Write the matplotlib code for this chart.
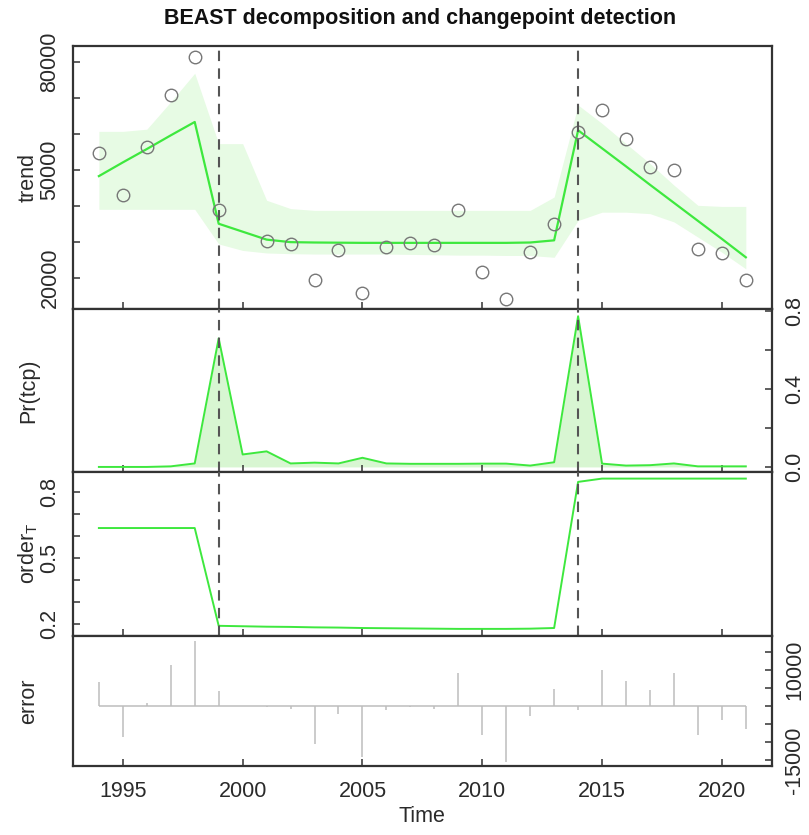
import numpy as np
import matplotlib
matplotlib.use("Agg")
import matplotlib.pyplot as plt
from matplotlib.ticker import FixedLocator, FixedFormatter

plt.rcParams['font.family'] = ['Liberation Sans', 'DejaVu Sans']
plt.rcParams['font.size'] = 15.5

years = list(range(1994, 2022))

# observed values (2000 is missing)
observed = [54800, 43200, 56400, 70700, 81400, 39000, np.nan, 30300, 29500, 19500,
            27700, 15800, 28600, 29800, 29100, 38800, 21700, 14200, 27200, 34900,
            60600, 66600, 58500, 50800, 49900, 28000, 27100, 19400]
trend = [48300, 52100, 55800, 59600, 63300, 35100, 32900, 30700, 30000, 29900,
         29850, 29800, 29800, 29800, 29800, 29800, 29800, 29800, 29900, 30500,
         61000, 56000, 51000, 45900, 40900, 35900, 30900, 25800]
trend_upper = [60700, 60700, 61300, 68900, 76800, 57300, 57300, 41600, 39300, 38800,
               38800, 38800, 38800, 38800, 38800, 38800, 38800, 38800, 38800, 42500,
               68000, 62900, 57300, 51800, 45800, 40200, 39900, 39900]
trend_lower = [39100, 39100, 39100, 39100, 39100, 29500, 27700, 27000, 26800, 26700,
               26700, 26700, 26700, 26600, 26500, 26400, 26400, 26300, 26300, 25800,
               36000, 38300, 38300, 37900, 35600, 31400, 27200, 22600]

prob_tcp = [0.0, 0.0, 0.0, 0.003, 0.018, 0.66, 0.064, 0.08, 0.018, 0.022,
            0.018, 0.047, 0.018, 0.016, 0.016, 0.016, 0.017, 0.017, 0.007, 0.024,
            0.774, 0.017, 0.007, 0.009, 0.018, 0.003, 0.003, 0.003]

order_t = [0.635, 0.635, 0.635, 0.635, 0.635, 0.19, 0.188, 0.186, 0.185, 0.183,
           0.182, 0.18, 0.179, 0.178, 0.177, 0.176, 0.176, 0.176, 0.177, 0.18,
           0.845, 0.86, 0.86, 0.86, 0.86, 0.86, 0.86, 0.86]

error = [6500, -8700, 900, 11400, 18100, 4200, np.nan, -400, -800, -10600,
         -2300, -14100, -1100, -400, -800, 9200, -8100, -15500, -2800, 4600,
         -1100, 10000, 7000, 4400, 9100, -8100, -3900, -6400]

changepoints = [1999, 2014]

green = '#3ee83e'
band = '#e7fbe4'
frame = '#333333'
text_col = '#2a2a2a'

fig = plt.figure(figsize=(8.09, 8.35), dpi=100)

left = 73 / 809
width = 698.7 / 809
# panel edges in pixels from top
edges = [(46, 309), (309, 472), (472, 635.7), (635.7, 766)]
axes = []
for top, bot in edges:
    ax = fig.add_axes([left, (835 - bot) / 835, width, (bot - top) / 835])
    axes.append(ax)

ax1, ax2, ax3, ax4 = axes

for ax in axes:
    ax.set_xlim(1992.92, 2022.08)
    for s in ax.spines.values():
        s.set_color(frame)
        s.set_linewidth(1.6)
    ax.xaxis.set_major_locator(FixedLocator([1995, 2000, 2005, 2010, 2015, 2020]))
    ax.tick_params(axis='both', direction='in', length=5, width=1.1, color=frame,
                   labelcolor=text_col)
    ax.tick_params(axis='x', labelbottom=False, pad=11)

# trend panel
ax1.fill_between(years, trend_lower, trend_upper, color=band, lw=0)
ax1.plot(years, trend, color=green, lw=1.6)
ax1.plot(years, observed, 'o', mfc='none', mec='#777777', ms=9, mew=1.0)
ax1.set_ylim(11470, 84360)
ax1.yaxis.set_major_locator(FixedLocator(range(20000, 90000, 10000)))
ax1.yaxis.set_major_formatter(FixedFormatter(['20000', '', '', '50000', '', '', '80000']))
ax1.set_ylabel('trend')

# probability of changepoint
ax2.fill_between(years, 0, prob_tcp, color='#d8f6d2', lw=0)
ax2.plot(years, prob_tcp, color=green, lw=1.4)
ax2.set_ylim(-0.026, 0.811)
ax2.yaxis.tick_right()
ax2.yaxis.set_major_locator(FixedLocator([0, 0.2, 0.4, 0.6, 0.8]))
ax2.yaxis.set_major_formatter(FixedFormatter(['0.0', '', '0.4', '', '0.8']))
ax2.yaxis.set_label_position('left')
ax2.set_ylabel('Pr(tcp)')

# trend order
ax3.plot(years, order_t, color=green, lw=1.4)
ax3.set_ylim(0.145, 0.89)
ax3.yaxis.set_major_locator(FixedLocator([0.2, 0.3, 0.4, 0.5, 0.6, 0.7, 0.8]))
ax3.yaxis.set_major_formatter(FixedFormatter(['0.2', '', '', '0.5', '', '', '0.8']))
ax3.set_ylabel(r'order$_\mathregular{T}$')

# error panel
ax4.hlines(0, years[0], years[-1], color='#bdbdbd', lw=1.1)
ax4.vlines(years, 0, error, color='#bdbdbd', lw=1.1)
ax4.set_ylim(-16670, 19440)
ax4.yaxis.tick_right()
ax4.yaxis.set_major_locator(FixedLocator(range(-15000, 20000, 5000)))
ax4.yaxis.set_major_formatter(FixedFormatter(['-15000', '', '', '', '', '10000', '']))
ax4.yaxis.set_label_position('left')
ax4.set_ylabel('error')
ax4.tick_params(axis='x', labelbottom=True)
ax4.set_xlabel('Time', labelpad=3, color=text_col)

for ax in (ax1, ax2, ax3):
    for cp in changepoints:
        ax.axvline(cp, color='#555555', lw=1.5, ls=(0, (5, 3.5)), zorder=5)

for ax in axes:
    for lab in ax.get_yticklabels():
        lab.set_rotation(90)
        lab.set_va('center')
    ax.tick_params(axis='y', pad=9)
    ax.yaxis.set_label_coords(-0.064, 0.5)
    ax.yaxis.label.set_va('center')
    ax.yaxis.label.set_color(text_col)

fig.suptitle('BEAST decomposition and changepoint detection', x=0.519, y=0.978,
             fontsize=15.5, fontweight='bold', va='center', color='#111111')

fig.savefig('out.png', dpi=100)
